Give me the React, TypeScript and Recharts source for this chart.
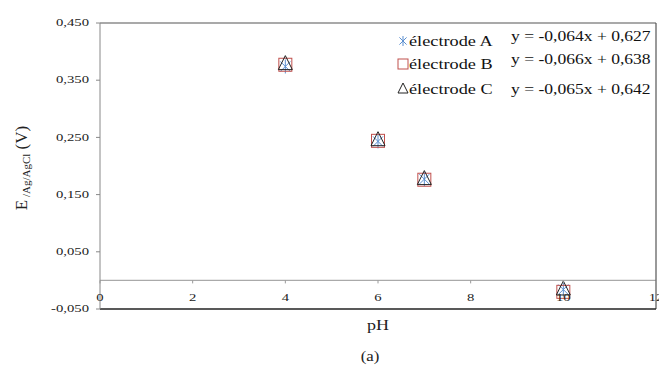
import {
  ReferenceLine,
  Scatter,
  ScatterChart,
  XAxis,
  YAxis,
} from 'recharts'

const phValues = [4, 6, 7, 10]
const electrodeA = [0.374, 0.243, 0.177, -0.016]
const electrodeB = [0.377, 0.244, 0.176, -0.02]
const electrodeC = [0.379, 0.246, 0.178, -0.015]

const xTicks = [0, 2, 4, 6, 8, 10, 12]
const yTicks = [-0.05, 0.05, 0.15, 0.25, 0.35, 0.45]

const seriesNames = ['électrode A', 'électrode B', 'électrode C']
const equations = ['y = -0,064x + 0,627', 'y = -0,066x + 0,638', 'y = -0,065x + 0,642']

const toPoints = (ys: number[]) => phValues.map((ph, i) => ({ ph, e: ys[i] }))

const FONT = '"Liberation Serif", "Times New Roman", serif'
const BLUE = '#5b8fd0'
const RED = '#c0504d'
const DARK = '#222'

// chart geometry (plot area)
const PLOT_TOP = 23
const PLOT_H = 286
const Y_MIN = -0.05
const Y_MAX = 0.45
// pixel row of the y = 0 line, where the x axis crosses
const zeroY = PLOT_TOP + (PLOT_H * Y_MAX) / (Y_MAX - Y_MIN)

const fmt = (v: number) => v.toFixed(3).replace('.', ',')

function Asterisk({ cx, cy, s = 7 }: any) {
  const d = s * 0.72
  return (
    <g stroke={BLUE} strokeWidth={1}>
      <line x1={cx} y1={cy - s} x2={cx} y2={cy + s} />
      <line x1={cx - d} y1={cy - d} x2={cx + d} y2={cy + d} />
      <line x1={cx - d} y1={cy + d} x2={cx + d} y2={cy - d} />
    </g>
  )
}

function Square({ cx, cy, s = 6.5 }: any) {
  return <rect x={cx - s} y={cy - s} width={s * 2} height={s * 2} fill="none" stroke={RED} strokeWidth={1} />
}

function Triangle({ cx, cy, s = 7 }: any) {
  return (
    <polygon
      points={`${cx},${cy - s - 1} ${cx - s},${cy + s - 1} ${cx + s},${cy + s - 1}`}
      fill="none"
      stroke={DARK}
      strokeWidth={1}
    />
  )
}

function YTick({ x, y, payload }: any) {
  return (
    <text
      transform={`translate(${x - 5},${y}) scale(1.4,1)`}
      textAnchor="end"
      dominantBaseline="central"
      fontSize={10.5}
      fontFamily={FONT}
      fill="#222"
    >
      {fmt(payload.value)}
    </text>
  )
}

function XTick({ x, payload }: any) {
  return (
    <g>
      <line x1={x} y1={zeroY} x2={x} y2={zeroY + 3} stroke="#999" />
      <text
        transform={`translate(${x},${zeroY + 17}) scale(1.4,1)`}
        textAnchor="middle"
        dominantBaseline="central"
        fontSize={10.5}
        fontFamily={FONT}
        fill="#222"
      >
        {payload.value}
      </text>
    </g>
  )
}

function YLabel() {
  return (
    <text
      transform="translate(27,168) rotate(-90)"
      textAnchor="middle"
      fontFamily={FONT}
      fill="#222"
    >
      <tspan fontSize={17}>E</tspan>
      <tspan fontSize={11} dy={3}> /Ag/AgCl</tspan>
      <tspan fontSize={17} dy={-3}> (V)</tspan>
    </text>
  )
}

function XLabel({ viewBox }: any) {
  const cx = viewBox.x + viewBox.width / 2
  return (
    <g fontFamily={FONT} fill="#222">
      <text transform={`translate(${cx},330) scale(1.2,1)`} textAnchor="middle" fontSize={15}>
        pH
      </text>
      <text transform={`translate(${cx - 8},361) scale(1.2,1)`} textAnchor="middle" fontSize={14}>
        (a)
      </text>
    </g>
  )
}

const icons = [Asterisk, Square, Triangle]
const rowY = [13, 36, 61]
const eqY = [8, 31, 61]

function LegendBox() {
  return (
    <svg width={270} height={80} style={{ overflow: 'visible', display: 'block' }}>
      {seriesNames.map((name, i) => {
        const Icon = icons[i]
        return (
          <g key={name}>
            <Icon cx={14} cy={rowY[i]} s={5} />
            <text
              transform={`translate(20,${rowY[i]}) scale(1.26,1)`}
              dominantBaseline="central"
              fontSize={14.5}
              fontFamily={FONT}
              fill="#111"
            >
              {name}
            </text>
            <text
              transform={`translate(122,${eqY[i]}) scale(1.17,1)`}
              dominantBaseline="central"
              fontSize={15}
              fontFamily={FONT}
              fill="#111"
            >
              {equations[i]}
            </text>
          </g>
        )
      })}
    </svg>
  )
}

export default function App() {
  return (
    <div style={{ position: 'absolute', left: 0, top: 0, background: '#fff', width: 659, height: 367 }}>
      <ScatterChart
        width={659}
        height={367}
        margin={{ top: PLOT_TOP, right: 3, bottom: 28, left: 40 }}
        style={{ fontFamily: FONT }}
      >
        <XAxis
          type="number"
          dataKey="ph"
          domain={[0, 12]}
          ticks={xTicks}
          axisLine={false}
          tickLine={false}
          tick={<XTick />}
          height={30}
          interval={0}
          label={{ content: <XLabel /> }}
        />
        <YAxis
          type="number"
          dataKey="e"
          domain={[Y_MIN, Y_MAX]}
          ticks={yTicks}
          width={60}
          axisLine={{ stroke: '#888' }}
          tickLine={{ stroke: '#888' }}
          tickSize={4}
          tick={<YTick />}
          interval={0}
          label={{ content: <YLabel /> }}
        />
        <ReferenceLine y={0} stroke="#aaa" strokeWidth={1.2} />
        <ReferenceLine y={Y_MAX} stroke="#555" strokeWidth={1.2} />
        <ReferenceLine x={12} stroke="#555" strokeWidth={1.2} />
        <ReferenceLine y={Y_MIN} stroke={DARK} strokeWidth={1.6} />
        <Scatter name={seriesNames[0]} data={toPoints(electrodeA)} shape={<Asterisk />} isAnimationActive={false} />
        <Scatter name={seriesNames[1]} data={toPoints(electrodeB)} shape={<Square />} isAnimationActive={false} />
        <Scatter name={seriesNames[2]} data={toPoints(electrodeC)} shape={<Triangle />} isAnimationActive={false} />
      </ScatterChart>
      <div style={{ position: 'absolute', left: 389, top: 28 }}>
        <LegendBox />
      </div>
    </div>
  )
}
